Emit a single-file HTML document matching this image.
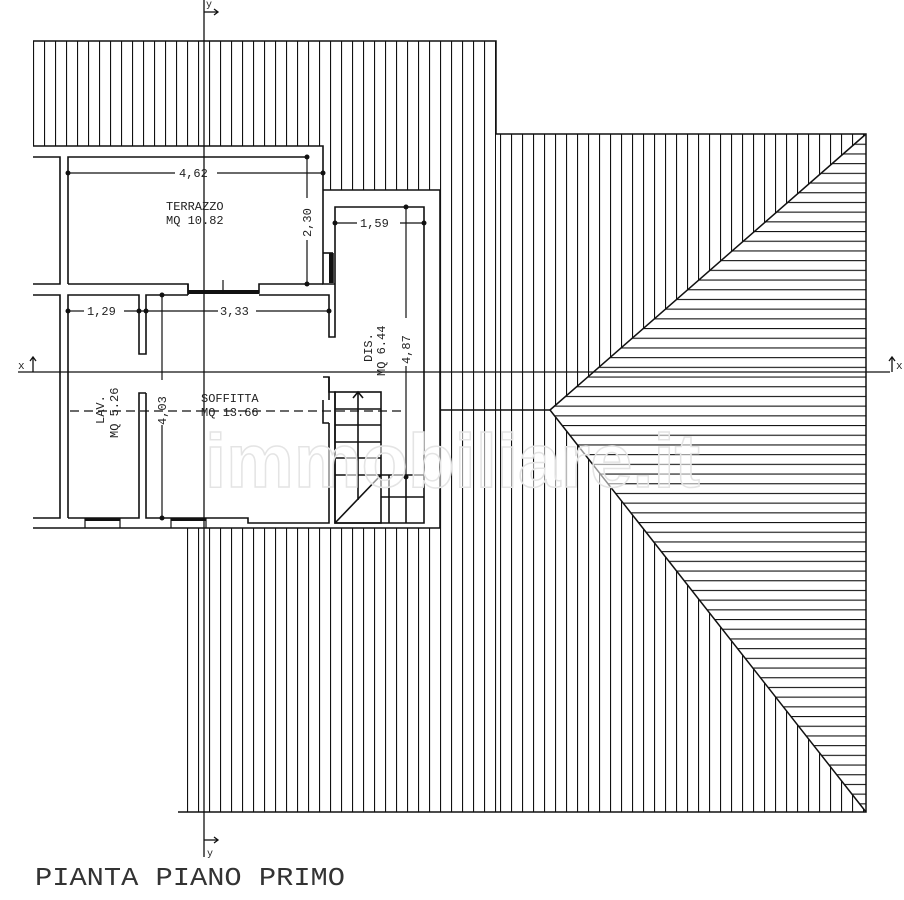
<!DOCTYPE html>
<html><head><meta charset="utf-8"><style>
html,body{margin:0;padding:0;background:#fff}
svg{display:block}
</style></head><body>
<svg width="904" height="900" viewBox="0 0 904 900" xmlns="http://www.w3.org/2000/svg">
<defs>
<pattern id="v0" patternUnits="userSpaceOnUse" width="11" height="10" x="0" y="0"><line x1="0.5" y1="0" x2="0.5" y2="10" stroke="#111" stroke-width="1.2"/></pattern>
<pattern id="v5" patternUnits="userSpaceOnUse" width="11" height="10" x="5" y="0"><line x1="0.5" y1="0" x2="0.5" y2="10" stroke="#111" stroke-width="1.2"/></pattern>
<pattern id="h" patternUnits="userSpaceOnUse" width="10" height="9.7" x="0" y="134"><line x1="0" y1="0.5" x2="10" y2="0.5" stroke="#111" stroke-width="1.2"/></pattern>
</defs>
<rect x="33" y="41" width="463" height="105" fill="url(#v0)"/>
<rect x="323" y="146" width="173" height="44" fill="url(#v0)"/>
<rect x="440" y="190" width="57" height="338" fill="url(#v0)"/>
<rect x="178" y="528" width="319" height="284" fill="url(#v0)"/>
<polygon points="497,134 866,134 550,410 866,812 497,812" fill="url(#v5)"/>
<polygon points="550,410 866,134 866,812" fill="#fff"/>
<polygon points="550,410 866,134 866,812" fill="url(#h)"/>
<g stroke="#111" stroke-width="1.5" fill="none">
<polyline points="33,41 496,41 496,134 866,134 866,812 178,812"/>
<line x1="550" y1="410" x2="866" y2="134"/>
<line x1="550" y1="410" x2="866" y2="812"/>
<line x1="440" y1="410" x2="550" y2="410"/>
</g>
<polygon points="33,146 323,146 323,190 440,190 440,528 33,528" fill="#fff"/>
<g stroke="#111" stroke-width="1.6" fill="none">
<polyline points="33,146 323,146 323,284 335,284"/>
<polyline points="33,157 60,157 60,284 33,284"/>
<polyline points="68,284 68,157 305,157"/>
<polyline points="33,295 60,295 60,518 33,518"/>
<polyline points="68,518 68,295 139,295 139,354 146,354 146,295 188,295"/>
<polyline points="68,284 188,284 188,293 259,293 259,284 323,284"/>
<polyline points="259,295 329,295 329,337 335,337 335,207 424,207 424,523 335,523 335,392 329,392 329,377 323,377"/>
<polyline points="323,400 323,423 329,423"/>
<polyline points="188,295 188,284"/>
<polyline points="146,393 139,393 139,518 68,518"/>
<polyline points="146,393 146,518 248,518 248,523 329,523 329,423"/>
<polyline points="33,528 440,528 440,190 323,190"/>
<line x1="323" y1="253" x2="333" y2="253"/><line x1="333" y1="253" x2="333" y2="283"/>
<line x1="329" y1="377" x2="329" y2="400"/>
<rect x="335" y="392" width="46" height="131"/>
<line x1="381" y1="475" x2="424" y2="475"/>
<line x1="335" y1="523" x2="381" y2="475"/>
<line x1="358" y1="392" x2="358" y2="500"/>
<line x1="389" y1="475" x2="389" y2="523"/><line x1="406" y1="475" x2="406" y2="523"/>
<line x1="381" y1="497" x2="424" y2="497"/>
<line x1="335" y1="409" x2="381" y2="409"/><line x1="335" y1="425" x2="381" y2="425"/><line x1="335" y1="442" x2="381" y2="442"/><line x1="335" y1="458" x2="381" y2="458"/><line x1="335" y1="475" x2="381" y2="475"/>
<polyline points="353,398 358,392 363,398"/>
</g>
<g fill="#111">
<rect x="188" y="290" width="71" height="4"/>
<rect x="85" y="518" width="35" height="3"/><rect x="171" y="518" width="35" height="3"/>
<rect x="329" y="253" width="4" height="30"/>
</g>
<g stroke="#111" stroke-width="1.2" fill="none">
<line x1="85" y1="518" x2="85" y2="528"/><line x1="120" y1="518" x2="120" y2="528"/>
<line x1="171" y1="518" x2="171" y2="528"/><line x1="206" y1="518" x2="206" y2="528"/>
<line x1="223" y1="280" x2="223" y2="294"/>
</g>
<g stroke="#111" stroke-width="1.3" fill="none">
<line x1="204" y1="0" x2="204" y2="857"/>
<line x1="18" y1="372" x2="890" y2="372"/>
<line x1="204" y1="12" x2="218" y2="12"/><polyline points="214,9 218,12 214,15"/>
<line x1="204" y1="840" x2="218" y2="840"/><polyline points="214,837 218,840 214,843"/>
<line x1="33" y1="372" x2="33" y2="357"/><polyline points="30,361 33,357 36,361"/>
<line x1="892" y1="372" x2="892" y2="357"/><polyline points="889,361 892,357 895,361"/>
<line x1="70" y1="411" x2="405" y2="411" stroke-dasharray="9,5"/>
</g>
<g font-family="Liberation Mono, monospace" fill="#222">
<text x="206" y="7" font-size="10">y</text>
<text x="207" y="856" font-size="10">y</text>
<text x="18" y="369" font-size="11">x</text>
<text x="896" y="369" font-size="11">x</text>
</g>
<g stroke="#111" stroke-width="1.2">
<line x1="68" y1="173" x2="175" y2="173"/><line x1="217" y1="173" x2="323" y2="173"/>
<line x1="307" y1="157" x2="307" y2="198"/><line x1="307" y1="240" x2="307" y2="284"/>
<line x1="335" y1="223" x2="357" y2="223"/><line x1="400" y1="223" x2="424" y2="223"/>
<line x1="406" y1="207" x2="406" y2="318"/><line x1="406" y1="366" x2="406" y2="477"/>
<line x1="68" y1="311" x2="84" y2="311"/><line x1="124" y1="311" x2="146" y2="311"/>
<line x1="146" y1="311" x2="218" y2="311"/><line x1="256" y1="311" x2="329" y2="311"/>
<line x1="162" y1="295" x2="162" y2="380"/><line x1="162" y1="425" x2="162" y2="518"/>
</g>
<g fill="#111">
<circle cx="68" cy="173" r="2.5"/><circle cx="323" cy="173" r="2.5"/>
<circle cx="307" cy="157" r="2.5"/><circle cx="307" cy="284" r="2.5"/>
<circle cx="335" cy="223" r="2.5"/><circle cx="424" cy="223" r="2.5"/>
<circle cx="406" cy="207" r="2.5"/><circle cx="406" cy="477" r="2.5"/>
<circle cx="68" cy="311" r="2.5"/><circle cx="139" cy="311" r="2.5"/><circle cx="146" cy="311" r="2.5"/><circle cx="329" cy="311" r="2.5"/>
<circle cx="162" cy="295" r="2.5"/><circle cx="162" cy="518" r="2.5"/>
</g>
<g font-size="12" font-family="Liberation Mono, monospace" fill="#222">
<text x="179" y="177">4,62</text>
<text x="87" y="315">1,29</text>
<text x="220" y="315">3,33</text>
<text x="360" y="227">1,59</text>
<text x="166" y="210">TERRAZZO</text>
<text x="166" y="224">MQ 10.82</text>
<text x="201" y="402">SOFFITTA</text>
<text x="201" y="416">MQ 13.66</text>
<text transform="translate(311,237) rotate(-90)">2,30</text>
<text transform="translate(410,364) rotate(-90)">4,87</text>
<text transform="translate(166,425) rotate(-90)">4,03</text>
<text transform="translate(104,424) rotate(-90)">LAV.</text>
<text transform="translate(118,438) rotate(-90)">MQ 5.26</text>
<text transform="translate(372,362) rotate(-90)">DIS.</text>
<text transform="translate(385,376) rotate(-90)">MQ 6.44</text>
</g>
<text x="205" y="487" font-family="Liberation Sans, sans-serif" font-weight="bold" font-size="76" style="fill:#ffffff;fill-opacity:0.55;stroke:#e4e4e4;stroke-width:1.5" textLength="495" lengthAdjust="spacingAndGlyphs">immobiliare.it</text>
<text x="35" y="885" font-family="Liberation Mono, monospace" font-size="26" fill="#333" textLength="310" lengthAdjust="spacingAndGlyphs">PIANTA PIANO PRIMO</text>
</svg>
</body></html>
